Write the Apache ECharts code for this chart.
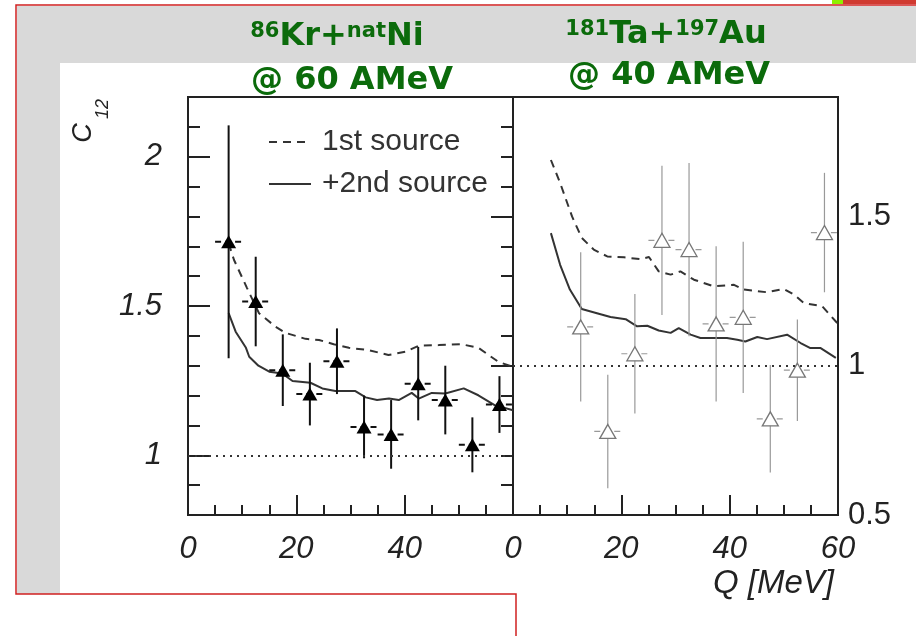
<!DOCTYPE html>
<html>
<head>
<meta charset="utf-8">
<script src="https://cdn.jsdelivr.net/npm/echarts@6.0.0/dist/echarts.min.js"></script>
<style>
html, body { margin: 0; padding: 0; background: #fff; }
#chart { width: 916px; height: 636px; }
</style>
</head>
<body>
<div id="chart"></div>
<script>
// 86Kr + natNi @ 60 AMeV (left panel)
const qKr = [7.5, 12.5, 17.5, 22.5, 27.5, 32.5, 37.5, 42.5, 47.5, 52.5, 57.5];
const cKr = [1.715, 1.515, 1.285, 1.205, 1.315, 1.095, 1.07, 1.24, 1.185, 1.035, 1.17];
const errKr = [0.39, 0.15, 0.12, 0.105, 0.11, 0.105, 0.115, 0.123, 0.115, 0.092, 0.095];
const src1Kr = [[7.5, 1.71], [8.5, 1.654], [10.9, 1.56], [13.1, 1.476], [16.2, 1.43], [18, 1.41], [21.7, 1.39],
  [24.2, 1.386], [26.9, 1.372], [29.7, 1.36], [33.4, 1.352], [37, 1.336], [40.2, 1.347], [42.6, 1.367],
  [46.3, 1.369], [50.5, 1.372], [53.6, 1.36], [57.3, 1.313], [60, 1.296]];
const src2Kr = [[7.5, 1.476], [8.8, 1.414], [10.7, 1.36], [11.3, 1.33], [13, 1.3], [15, 1.28], [17.4, 1.274],
  [19.3, 1.249], [22.6, 1.243], [24.8, 1.224], [27.2, 1.215], [30.9, 1.215], [32.8, 1.194], [34.9, 1.185],
  [37.1, 1.19], [38.9, 1.185], [41.3, 1.209], [42.6, 1.19], [45, 1.209], [47.5, 1.207], [50.9, 1.224],
  [53.6, 1.201], [56.6, 1.168], [60, 1.151]];

// 181Ta + 197Au @ 40 AMeV (right panel)
const qTa = [12.5, 17.5, 22.5, 27.5, 32.5, 37.5, 42.5, 47.5, 52.5, 57.5];
const cTa = [1.13, 0.78, 1.04, 1.42, 1.389, 1.14, 1.162, 0.822, 0.985, 1.446];
const errTa = [0.25, 0.19, 0.2, 0.25, 0.29, 0.26, 0.253, 0.18, 0.17, 0.2];
const src1Ta = [[7, 1.689], [8.7, 1.612], [10.9, 1.5], [12.7, 1.428], [14.9, 1.389], [17.4, 1.366], [20.5, 1.363],
  [23.5, 1.357], [25.1, 1.364], [26.9, 1.316], [29.1, 1.305], [30.9, 1.316], [33.4, 1.288], [37.1, 1.266],
  [40.8, 1.271], [42.6, 1.255], [46.9, 1.246], [50, 1.257], [51.9, 1.238], [53.7, 1.21], [57.1, 1.199], [60, 1.14]];
const src2Ta = [[7, 1.444], [8.7, 1.338], [10.5, 1.255], [12.7, 1.19], [15.5, 1.176], [18, 1.163], [20.8, 1.156],
  [22.9, 1.132], [24.8, 1.134], [26.9, 1.118], [29.1, 1.11], [30.6, 1.126], [32.8, 1.104], [34.6, 1.093],
  [39.5, 1.093], [41.4, 1.087], [42.9, 1.081], [45.1, 1.096], [46.9, 1.089], [50.6, 1.104], [53.1, 1.076],
  [54.9, 1.059], [56.8, 1.059], [59.6, 1.026]];

// tick labels
const xLabelsKr = [0, 20, 40];
const xLabelsTa = [0, 20, 40, 60];
const xMajor = [20, 40];
const xMinor = [5, 10, 15, 25, 30, 35, 45, 50, 55];
const yLabelsKr = [1, 1.5, 2];
const yMinorKr = [0.9, 1.1, 1.2, 1.3, 1.4, 1.6, 1.7, 1.8, 1.9, 2.1];
const yLabelsTa = [0.5, 1, 1.5];
const yMinorTa = [0.6, 0.7, 0.8, 0.9, 1.1, 1.2, 1.3, 1.4, 1.6, 1.7, 1.8];

const halfBin = 2.5;
const ink = '#222';
const green = '#0b6b0b';
const font = 'Liberation Sans';
const titleFont = 'DejaVu Sans';

function errorBars(color, width) {
    return function (params, api) {
        const x = api.value(0), y = api.value(1), e = api.value(2);
        const top = api.coord([x, y + e]);
        const bot = api.coord([x, y - e]);
        const l = api.coord([x - halfBin, y]);
        const r = api.coord([x + halfBin, y]);
        return {
            type: 'group',
            children: [
                { type: 'line', shape: { x1: top[0], y1: top[1], x2: bot[0], y2: bot[1] }, style: { stroke: color, lineWidth: width } },
                { type: 'line', shape: { x1: l[0], y1: l[1], x2: r[0], y2: r[1] }, style: { stroke: color, lineWidth: width, lineDash: [6, 4] } }
            ]
        };
    };
}

function xAxis(grid, ticks, len, labels) {
    return {
        type: 'value', gridIndex: grid, min: 0, max: 60, position: 'bottom',
        axisLine: { show: !!labels, lineStyle: { color: ink, width: 2 } },
        axisTick: { inside: true, length: len, customValues: ticks, lineStyle: { color: ink, width: 2 } },
        axisLabel: labels ? {
            customValues: labels, margin: 19, fontSize: 31, fontStyle: 'italic', fontFamily: font, color: ink
        } : { show: false },
        splitLine: { show: false }
    };
}

function yAxis(grid, pos, min, max, ticks, len, labels) {
    return {
        type: 'value', gridIndex: grid, min: min, max: max, position: pos,
        axisLine: { show: !!labels, lineStyle: { color: ink, width: 2 } },
        axisTick: { inside: true, length: len, customValues: ticks, lineStyle: { color: ink, width: 2 } },
        axisLabel: labels ? {
            customValues: labels, margin: pos == 'left' ? 26 : 10, fontSize: 31, fontFamily: font, color: ink,
            fontStyle: pos == 'left' ? 'italic' : 'normal'
        } : { show: false },
        splitLine: { show: false }
    };
}

const dotted = () => ({
    silent: true, symbol: 'none', label: { show: false },
    lineStyle: { color: '#333', width: 2, type: [2, 5] },
    data: [{ yAxis: 1 }]
});

const supTitle = (text, x, y) => ({
    type: 'text', x: x, y: y, z: 10,
    style: {
        text: text, align: 'center', verticalAlign: 'middle',
        rich: {
            m: { fontSize: 32, fontWeight: 'bold', fontFamily: titleFont, fill: green },
            s: { fontSize: 21, fontWeight: 'bold', fontFamily: titleFont, fill: green, verticalAlign: 'top' }
        }
    }
});

let option, chart;

function initChart() {
    chart = echarts.init(document.getElementById('chart'), null, { renderer: 'canvas' });
    option = {
        animation: false,
        backgroundColor: '#fff',
        grid: [
            { left: 188, top: 97, width: 325, height: 418, show: true, borderColor: ink, borderWidth: 2 },
            { left: 513, top: 97, width: 325, height: 418, show: true, borderColor: ink, borderWidth: 2 }
        ],
        xAxis: [
            xAxis(0, xMajor, 20, xLabelsKr),
            xAxis(0, xMinor, 10),
            xAxis(1, xMajor, 20, xLabelsTa),
            xAxis(1, xMinor, 10)
        ],
        yAxis: [
            yAxis(0, 'left', 0.8, 2.2, yLabelsKr, 22, yLabelsKr),
            yAxis(0, 'left', 0.8, 2.2, yMinorKr, 12),
            yAxis(1, 'right', 0.5, 1.9, yLabelsTa, 22, yLabelsTa),
            yAxis(1, 'right', 0.5, 1.9, yMinorTa, 12)
        ],
        legend: {
            data: ['1st source', '+2nd source'],
            orient: 'vertical', left: 268, top: 127, padding: 0,
            itemWidth: 42, itemHeight: 14, itemGap: 12,
            itemStyle: { color: 'transparent', borderWidth: 0, opacity: 0 },
            textStyle: { fontSize: 30, fontFamily: font, color: '#333', padding: [0, 0, 0, 6] }
        },
        series: [
            {
                name: '1st source', type: 'line', xAxisIndex: 0, yAxisIndex: 0, data: src1Kr,
                symbol: 'none', lineStyle: { color: '#333', width: 2, type: [8, 6] }, z: 2
            },
            {
                name: '+2nd source', type: 'line', xAxisIndex: 0, yAxisIndex: 0, data: src2Kr,
                symbol: 'none', lineStyle: { color: '#333', width: 2 }, z: 2
            },
            {
                name: '1st source', type: 'line', xAxisIndex: 2, yAxisIndex: 2, data: src1Ta,
                symbol: 'none', lineStyle: { color: '#333', width: 2, type: [8, 6] }, z: 2
            },
            {
                name: '+2nd source', type: 'line', xAxisIndex: 2, yAxisIndex: 2, data: src2Ta,
                symbol: 'none', lineStyle: { color: '#333', width: 2 }, z: 2
            },
            {
                type: 'custom', xAxisIndex: 0, yAxisIndex: 0, z: 3, silent: true,
                data: qKr.map((q, i) => [q, cKr[i], errKr[i]]),
                renderItem: errorBars('#111', 2),
                markLine: dotted()
            },
            {
                type: 'custom', xAxisIndex: 2, yAxisIndex: 2, z: 3, silent: true,
                data: qTa.map((q, i) => [q, cTa[i], errTa[i]]),
                renderItem: errorBars('#999', 1.2),
                markLine: dotted()
            },
            {
                type: 'scatter', xAxisIndex: 0, yAxisIndex: 0, z: 4,
                data: qKr.map((q, i) => [q, cKr[i]]),
                symbol: 'triangle', symbolSize: [15, 13],
                itemStyle: { color: '#000', opacity: 1 }
            },
            {
                type: 'scatter', xAxisIndex: 2, yAxisIndex: 2, z: 4,
                data: qTa.map((q, i) => [q, cTa[i]]),
                symbol: 'triangle', symbolSize: [16, 14],
                itemStyle: { color: '#fff', borderColor: '#777', borderWidth: 1.3, opacity: 1 }
            }
        ],
        graphic: [
            // slide background
            { type: 'rect', z: -10, shape: { x: 17, y: 6, width: 899, height: 57 }, style: { fill: '#d9d9d9' } },
            { type: 'rect', z: -10, shape: { x: 17, y: 6, width: 43, height: 588 }, style: { fill: '#d9d9d9' } },
            { type: 'polyline', z: -5, shape: { points: [[916, 5], [16, 5], [16, 594], [516, 594], [516, 636]] }, style: { stroke: '#d02020', lineWidth: 1.5, fill: null } },
            { type: 'rect', z: -5, shape: { x: 832, y: 0, width: 11, height: 4 }, style: { fill: '#8ef000' } },
            { type: 'rect', z: -5, shape: { x: 843, y: 0, width: 73, height: 4 }, style: { fill: '#d03a30' } },
            // titles
            supTitle('{s|86}{m|Kr+}{s|nat}{m|Ni}', 337, 37),
            {
                type: 'text', x: 352, y: 81, z: 10,
                style: { text: '@ 60 AMeV', align: 'center', verticalAlign: 'middle', font: 'bold 32px "DejaVu Sans"', fill: green }
            },
            supTitle('{s|181}{m|Ta+}{s|197}{m|Au}', 666, 35),
            {
                type: 'text', x: 669, y: 76, z: 10,
                style: { text: '@ 40 AMeV', align: 'center', verticalAlign: 'middle', font: 'bold 32px "DejaVu Sans"', fill: green }
            },
            // axis names
            {
                type: 'text', x: 83, y: 133, rotation: Math.PI / 2, z: 10,
                style: { text: 'C', align: 'center', verticalAlign: 'middle', font: 'italic 27px "Liberation Sans"', fill: ink }
            },
            {
                type: 'text', x: 103, y: 109, rotation: Math.PI / 2, z: 10,
                style: { text: '12', align: 'center', verticalAlign: 'middle', font: 'italic 18px "Liberation Sans"', fill: ink }
            },
            {
                type: 'text', x: 834, y: 584, z: 10,
                style: { text: 'Q [MeV]', align: 'right', verticalAlign: 'middle', font: 'italic 33px "Liberation Sans"', fill: ink }
            }
        ]
    };
    chart.setOption(option);
}

initChart();
</script>
</body>
</html>
